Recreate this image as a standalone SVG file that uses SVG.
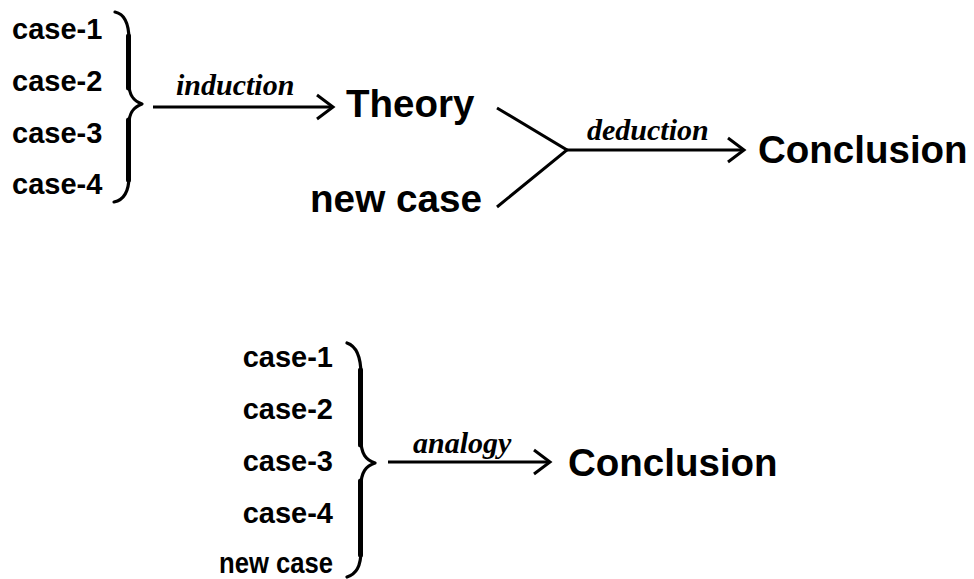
<svg xmlns="http://www.w3.org/2000/svg" width="974" height="579" viewBox="0 0 974 579">
<style>
.case{font-family:"Liberation Sans",Arial,sans-serif;font-weight:bold;font-size:29px;fill:#000}
.big{font-family:"Liberation Sans",Arial,sans-serif;font-weight:bold;font-size:38.5px;fill:#000}
.lbl{font-family:"Liberation Serif","Times New Roman",serif;font-weight:bold;font-style:italic;font-size:30px;fill:#000}
.brace{fill:none;stroke:#000;stroke-width:3.2;stroke-linecap:round;stroke-linejoin:round}
.spine{fill:none;stroke:#000;stroke-width:5;stroke-linecap:round}
.edge{fill:none;stroke:#000;stroke-width:3}
</style>
<defs>
<marker id="chev" markerUnits="userSpaceOnUse" viewBox="-20 -16 24 32" markerWidth="24" markerHeight="32" refX="0" refY="0" orient="auto">
<path d="M-16,-12 L0,0 L-16,12" fill="none" stroke="#000" stroke-width="3" stroke-linejoin="miter"/>
</marker>
</defs>
<rect width="974" height="579" fill="#fff"/>

<g id="top-cases">
<text class="case" x="12" y="39">case-1</text>
<text class="case" x="12" y="91">case-2</text>
<text class="case" x="12" y="143">case-3</text>
<text class="case" x="12" y="194">case-4</text>
<path class="brace" d="M115,12 C125,14 129,24 129,40 L129,84 C129,96 134,101 142,104 C134,107 129,112 129,124 L129,176 C129,192 124,200 114,202"/>
<path class="spine" d="M128.5,36 L128.5,88 M128.5,120 L128.5,180"/>
</g>
<g id="theory"><text class="big" x="346" y="117">Theory</text></g>
<g id="new-case-top"><text class="big" x="310" y="212" textLength="172" lengthAdjust="spacingAndGlyphs">new case</text></g>
<g id="conclusion-top"><text class="big" x="758" y="163">Conclusion</text></g>

<g id="bottom-cases">
<text class="case" x="333" y="367" text-anchor="end">case-1</text>
<text class="case" x="333" y="419" text-anchor="end">case-2</text>
<text class="case" x="333" y="471" text-anchor="end">case-3</text>
<text class="case" x="333" y="523" text-anchor="end">case-4</text>
<text class="case" x="333" y="573" text-anchor="end" textLength="114" lengthAdjust="spacingAndGlyphs">new case</text>
<path class="brace" d="M347,343 C356,346 361,356 361,375 L361,440 C361,454 366,460 375,463 C366,466 361,472 361,486 L361,550 C361,567 356,574 347,577"/>
<path class="spine" d="M360.5,370 L360.5,445 M360.5,481 L360.5,555"/>
</g>
<g id="conclusion-bottom"><text class="big" x="568" y="476">Conclusion</text></g>

<g id="connectors">
<line class="edge" x1="153" y1="107" x2="333" y2="107" marker-end="url(#chev)"/>
<text class="lbl" x="176" y="95">induction</text>
<polyline class="edge" points="497,108 567,150 497,207"/>
<line class="edge" x1="567" y1="150" x2="744" y2="150" marker-end="url(#chev)"/>
<text class="lbl" x="587" y="140">deduction</text>
<line class="edge" x1="388" y1="462" x2="550" y2="462" marker-end="url(#chev)"/>
<text class="lbl" x="413" y="453">analogy</text>
</g>
</svg>
